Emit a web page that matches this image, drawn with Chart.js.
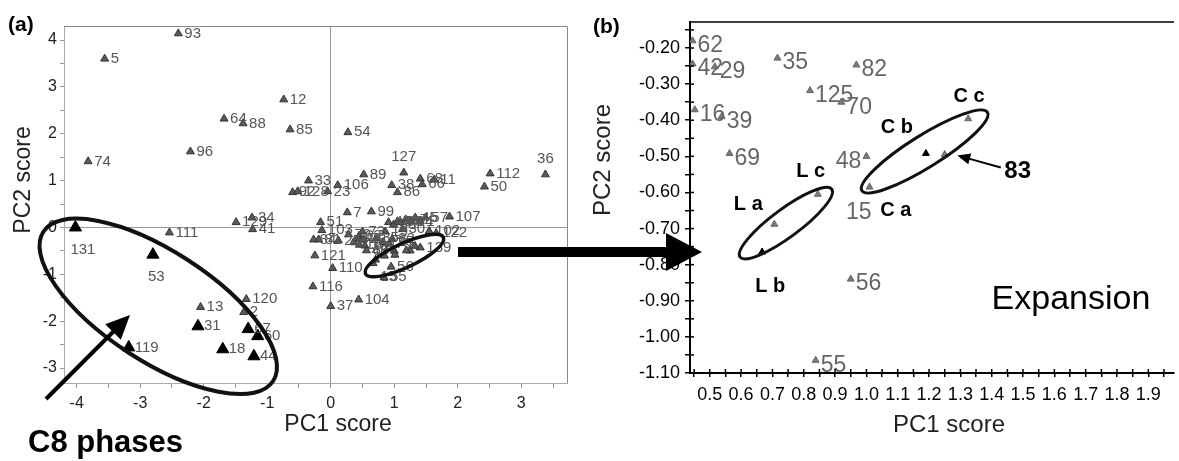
<!DOCTYPE html>
<html>
<head>
<meta charset="utf-8">
<script src="https://cdn.jsdelivr.net/npm/chart.js@4.4.1/dist/chart.umd.min.js"></script>
<style>
  body { margin: 0; background: #fff; width: 1179px; height: 461px; overflow: hidden; position: relative; }
  #wa { position: absolute; left: 0; top: 0; width: 580px; height: 461px; }
  #wb { position: absolute; left: 580px; top: 0; width: 599px; height: 461px; }
  #over { position: absolute; left: 0; top: 0; pointer-events: none; }
</style>
</head>
<body>
<div id="wa"><canvas id="chartA"></canvas></div>
<div id="wb"><canvas id="chartB"></canvas></div>
<canvas id="over" width="1179" height="461"></canvas>
<script>
// (a) PCA scores outside the expanded window
const leftIds = ['93','5','74','96','64','88','12','85','54','36','112','50','127','89','33','92','128','106','23','38',
  '86','68','11','66','7','99','107','51','34','129','41','111','121','110','116','37','104','13','120','2',
  '103','72','84','81','25','9','73','19','47','63','3','65','17','14','45','1','57','30','102','122','139'];
const leftPc1 = [-2.40,-3.56,-3.82,-2.21,-1.68,-1.38,-0.74,-0.64,0.27,3.38,2.51,2.42,1.15,0.52,-0.35,-0.60,-0.52,0.11,-0.05,0.96,
  1.05,1.41,1.63,1.44,0.26,0.64,1.87,-0.16,-1.24,-1.49,-1.23,-2.54,-0.25,0.03,-0.28,0.00,0.44,-2.05,-1.33,-1.37,
  -0.14,0.28,-0.27,-0.19,0.12,0.36,0.50,0.86,0.91,0.99,1.05,1.10,1.18,1.26,1.33,1.41,1.49,1.13,1.55,1.66,1.41];
const leftPc2 = [4.14,3.60,1.41,1.62,2.32,2.22,2.73,2.09,2.03,1.13,1.15,0.87,1.17,1.13,1.00,0.75,0.77,0.90,0.77,0.90,
  0.75,1.04,1.02,0.92,0.32,0.34,0.23,0.11,0.21,0.11,-0.04,-0.11,-0.60,-0.87,-1.26,-1.68,-1.54,-1.70,-1.53,-1.81,
  -0.06,-0.15,-0.26,-0.26,-0.28,-0.32,-0.09,-0.09,0.11,0.06,0.13,0.11,0.17,0.13,0.21,0.13,0.21,-0.04,-0.08,-0.12,-0.43];

// C8 phases (black)
const c8Ids = ['131','53','31','119','18','67','60','44'];
const c8Pc1 = [-4.02,-2.80,-2.09,-3.18,-1.70,-1.30,-1.15,-1.21];
const c8Pc2 = [0.00,-0.58,-2.11,-2.56,-2.60,-2.17,-2.32,-2.75];

// (b) expanded window: grey points, then L a, L c, 83, C c (unnumbered)
const expIds = ['62','42','29','35','125','70','82','16','39','69','48','56','55','15','','','',''];
const expPc1 = [0.445,0.445,0.516,0.716,0.82,0.92,0.968,0.452,0.538,0.563,1.00,0.95,0.838,1.01,0.706,0.845,1.25,1.325];
const expPc2 = [-0.18,-0.244,-0.252,-0.228,-0.318,-0.35,-0.247,-0.371,-0.39,-0.492,-0.50,-0.84,-1.065,-0.585,-0.688,-0.605,-0.495,-0.396];
// black points in the window: C b, L b
const expBlackPc1 = [1.19,0.667];
const expBlackPc2 = [-0.492,-0.765];

// phase names written next to the columns
const phaseNames = ['L a','L b','L c','C a','C b','C c'];

const FONT = '"Liberation Sans", Arial, sans-serif';
Chart.defaults.font.family = FONT;
Chart.defaults.color = '#222';

const labelSide = { '36': 'a', '127': 'a', '131': 'b', '53': 'b', '48': 'l', '15': 'bl' };

function pts(xs, ys) { return xs.map((x, i) => ({ x: x, y: ys[i] })); }

const pointLabels = {
  id: 'pointLabels',
  afterDatasetsDraw(chart, args, o) {
    const ctx = chart.ctx;
    ctx.save();
    ctx.font = o.font;
    ctx.fillStyle = o.color;
    ctx.textBaseline = 'middle';
    chart.data.datasets.forEach((ds, i) => {
      if (!ds.ids) return;
      chart.getDatasetMeta(i).data.forEach((p, j) => {
        const t = ds.ids[j];
        if (!t) return;
        const side = labelSide[t] || 'r';
        let x = p.x, y = p.y + o.dy;
        if (side === 'r') { ctx.textAlign = 'left'; x += o.gap; }
        else if (side === 'l') { ctx.textAlign = 'right'; x -= o.gap; }
        else if (side === 'a') { ctx.textAlign = 'center'; y = p.y - o.vgap * 0.7; }
        else if (side === 'b') { ctx.textAlign = 'left'; x -= 5; y = p.y + o.vgap; }
        else if (side === 'bl') { ctx.textAlign = 'right'; x += 2; y = p.y + o.vgap; }
        ctx.fillText(t, x, y);
      });
    });
    ctx.restore();
  }
};

function ellipse(ctx, cx, cy, a, b, deg, lw) {
  ctx.save();
  ctx.beginPath();
  ctx.lineWidth = lw;
  ctx.strokeStyle = '#111';
  ctx.ellipse(cx, cy, a, b, deg * Math.PI / 180, 0, 2 * Math.PI);
  ctx.stroke();
  ctx.restore();
}

function arrow(ctx, x1, y1, x2, y2, lw, hl, hw) {
  const ang = Math.atan2(y2 - y1, x2 - x1);
  const bx = x2 - hl * Math.cos(ang), by = y2 - hl * Math.sin(ang);
  ctx.save();
  ctx.strokeStyle = '#000';
  ctx.fillStyle = '#000';
  ctx.lineWidth = lw;
  ctx.beginPath(); ctx.moveTo(x1, y1); ctx.lineTo(bx + Math.cos(ang), by + Math.sin(ang)); ctx.stroke();
  ctx.beginPath();
  ctx.moveTo(x2, y2);
  ctx.lineTo(bx + hw / 2 * Math.sin(ang), by - hw / 2 * Math.cos(ang));
  ctx.lineTo(bx - hw / 2 * Math.sin(ang), by + hw / 2 * Math.cos(ang));
  ctx.closePath();
  ctx.fill();
  ctx.restore();
}

function text(ctx, s, x, y, font, color, rot, align) {
  ctx.save();
  ctx.font = font;
  ctx.fillStyle = color;
  ctx.textAlign = align || 'center';
  ctx.textBaseline = 'middle';
  ctx.translate(x, y);
  if (rot) ctx.rotate(rot);
  ctx.fillText(s, 0, 0);
  ctx.restore();
}

function at(chart, x, y) {
  return { x: chart.scales.x.getPixelForValue(x), y: chart.scales.y.getPixelForValue(y) };
}

const decoA = {
  id: 'decoA',
  afterDraw(chart) {
    const ctx = chart.ctx, a = chart.chartArea;
    ctx.save();
    ctx.strokeStyle = '#888';
    ctx.lineWidth = 1;
    ctx.beginPath();
    ctx.moveTo(a.left, a.top + 0.5); ctx.lineTo(a.right + 0.5, a.top + 0.5); ctx.lineTo(a.right + 0.5, a.bottom);
    ctx.stroke();
    ctx.restore();
    const e1 = at(chart, -2.716, -1.684);
    ellipse(ctx, e1.x, e1.y, 137, 55, 33, 4);
    const e2 = at(chart, 1.16, -0.60);
    ellipse(ctx, e2.x, e2.y, 43, 12, -25, 3.5);
    arrow(ctx, 46, 399, 130, 315, 4, 24, 22);
    text(ctx, '(a)', 8, 25, 'bold 21px ' + FONT, '#000', 0, 'left');
    text(ctx, 'C8 phases', 28, 443, 'bold 31px ' + FONT, '#000', 0, 'left');
    text(ctx, 'PC1 score', 338, 425, '23px ' + FONT, '#222');
    text(ctx, 'PC2 score', 24, 180, '23px ' + FONT, '#222', -Math.PI / 2);
  }
};

const decoB = {
  id: 'decoB',
  afterDraw(chart) {
    const ctx = chart.ctx, a = chart.chartArea;
    ctx.save();
    ctx.strokeStyle = '#000';
    ctx.lineWidth = 1.5;
    ctx.beginPath(); ctx.moveTo(a.left, a.top); ctx.lineTo(a.right, a.top); ctx.stroke();
    // inner halves of the crossing tick marks
    chart.scales.x.ticks.forEach(t => {
      const px = chart.scales.x.getPixelForValue(t.value);
      ctx.beginPath(); ctx.moveTo(px, a.bottom); ctx.lineTo(px, a.bottom - 4); ctx.stroke();
    });
    chart.scales.y.ticks.forEach(t => {
      const py = chart.scales.y.getPixelForValue(t.value);
      ctx.beginPath(); ctx.moveTo(a.left, py); ctx.lineTo(a.left + 4, py); ctx.stroke();
    });
    ctx.restore();
    const eL = at(chart, 0.743, -0.685);
    ellipse(ctx, eL.x, eL.y, 57, 14, -36.5, 3);
    const eC = at(chart, 1.186, -0.4865);
    ellipse(ctx, eC.x, eC.y, 74, 16, -32, 3);
    // phase names
    const nameX = [0.623, 0.693, 0.822, 1.094, 1.097, 1.328];
    const nameY = [-0.633, -0.861, -0.542, -0.649, -0.42, -0.335];
    phaseNames.forEach((n, i) => {
      const p = at(chart, nameX[i], nameY[i]);
      text(ctx, n, p.x, p.y, 'bold 20px ' + FONT, '#000');
    });
    const tip = at(chart, 1.29, -0.4975), tail = at(chart, 1.429, -0.531);
    arrow(ctx, tail.x, tail.y, tip.x, tip.y, 2, 13, 11);
    const l83 = at(chart, 1.483, -0.542);
    text(ctx, '83', l83.x, l83.y, 'bold 24px ' + FONT, '#000');
    text(ctx, 'Expansion', 491, 300, '34px ' + FONT, '#000');
    text(ctx, '(b)', 13, 27, 'bold 21px ' + FONT, '#000', 0, 'left');
    text(ctx, 'PC1 score', 369, 425, '24px ' + FONT, '#222');
    text(ctx, 'PC2 score', 23, 160, '24px ' + FONT, '#222', -Math.PI / 2);
  }
};

const isMult = (v, s) => Math.abs(v / s - Math.round(v / s)) < 1e-6;

const chartA = new Chart(document.getElementById('chartA'), {
  type: 'scatter',
  data: {
    datasets: [
      {
        data: pts(leftPc1.concat(expPc1, expBlackPc1), leftPc2.concat(expPc2, expBlackPc2)),
        ids: leftIds.concat(expIds),
        pointStyle: 'triangle', pointRadius: 4.6,
        pointBackgroundColor: '#5a5a5a', pointBorderColor: '#333', pointBorderWidth: 1
      },
      {
        data: pts(c8Pc1, c8Pc2),
        ids: c8Ids,
        pointStyle: 'triangle', pointRadius: 7,
        pointBackgroundColor: '#000', pointBorderColor: '#000', pointBorderWidth: 1
      }
    ]
  },
  options: {
    responsive: true, maintainAspectRatio: false, animation: false, devicePixelRatio: 1,
    layout: { padding: { top: 26, right: 13, left: 0, bottom: 0 } },
    plugins: {
      legend: { display: false }, tooltip: { enabled: false },
      pointLabels: { font: '15px ' + FONT, color: '#555', gap: 6, dy: 0, vgap: 22 }
    },
    scales: {
      x: {
        min: -4.2, max: 3.72,
        afterFit(s) { s.height = 78; },
        ticks: { stepSize: 0.5, includeBounds: false, autoSkip: false, maxRotation: 0, padding: 6,
          font: { size: 16 }, color: '#222', callback: v => isMult(v, 1) ? Math.round(v) : '' },
        grid: { color: c => (c.tick && c.tick.value === 0) ? '#999' : 'rgba(0,0,0,0)', tickColor: '#999', tickLength: 5 },
        border: { color: '#aaa' }
      },
      y: {
        min: -3.32, max: 4.3,
        afterFit(s) { s.width = 64; },
        ticks: { stepSize: 0.5, includeBounds: false, autoSkip: false, padding: 3,
          font: { size: 16 }, color: '#222', callback: v => isMult(v, 1) ? Math.round(v) : '' },
        grid: { color: c => (c.tick && c.tick.value === 0) ? '#999' : 'rgba(0,0,0,0)', tickColor: '#999', tickLength: 4 },
        border: { color: '#aaa' }
      }
    }
  },
  plugins: [pointLabels, decoA]
});

const chartB = new Chart(document.getElementById('chartB'), {
  type: 'scatter',
  data: {
    datasets: [
      {
        data: pts(expPc1, expPc2),
        ids: expIds,
        pointStyle: 'triangle', pointRadius: 4,
        pointBackgroundColor: '#7a7a7a', pointBorderColor: '#666', pointBorderWidth: 1
      },
      {
        data: pts(expBlackPc1, expBlackPc2),
        pointStyle: 'triangle', pointRadius: 4,
        pointBackgroundColor: '#000', pointBorderColor: '#000', pointBorderWidth: 1
      }
    ]
  },
  options: {
    responsive: true, maintainAspectRatio: false, animation: false, devicePixelRatio: 1,
    layout: { padding: { top: 22, right: 0, left: 0, bottom: 0 } },
    plugins: {
      legend: { display: false }, tooltip: { enabled: false },
      pointLabels: { font: '23px ' + FONT, color: '#666', gap: 5, dy: 5, vgap: 26 }
    },
    scales: {
      x: {
        min: 0.4368, max: 1.982,
        afterFit(s) { s.height = 88; },
        ticks: { stepSize: 0.05, includeBounds: false, autoSkip: false, maxRotation: 0, padding: 7,
          font: { size: 18 }, color: '#000', callback: v => isMult(v, 0.1) ? v.toFixed(1) : '' },
        grid: { drawOnChartArea: false, tickColor: '#000', tickLength: 4, lineWidth: 1.5 },
        border: { color: '#000', width: 2 }
      },
      y: {
        min: -1.1, max: -0.128,
        afterFit(s) { s.width = 110; },
        ticks: { stepSize: 0.05, includeBounds: false, autoSkip: false, padding: 5,
          font: { size: 18 }, color: '#000', callback: v => isMult(v, 0.1) ? v.toFixed(2) : '' },
        grid: { drawOnChartArea: false, tickColor: '#000', tickLength: 5, lineWidth: 1.5 },
        border: { color: '#000', width: 2 }
      }
    }
  },
  plugins: [pointLabels, decoB]
});

// connecting arrow from the small ellipse in (a) to the expansion (b)
const ov = document.getElementById('over').getContext('2d');
arrow(ov, 458, 252, 702, 252, 10, 36, 38);
</script>
</body>
</html>
